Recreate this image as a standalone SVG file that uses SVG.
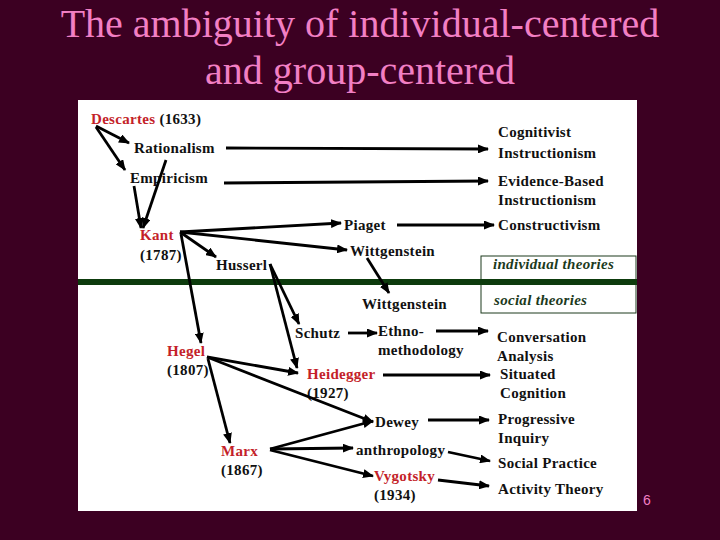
<svg xmlns="http://www.w3.org/2000/svg" width="720" height="540" viewBox="0 0 720 540">
<defs>
<style>
.t{font-family:'Liberation Serif','Times New Roman',Times,serif;font-size:15px;font-weight:bold;letter-spacing:0.3px;fill:#111}
.r{fill:#c41f2a}
.it{font-family:'Liberation Serif','Times New Roman',Times,serif;font-size:15px;font-weight:bold;font-style:italic;letter-spacing:0.3px;fill:#1c3a1c}
.title{font-family:'Liberation Serif','Times New Roman',Times,serif;font-size:40px;fill:#f27fc4}
.c path{fill:none;stroke:#000;stroke-width:2.8;marker-end:url(#ah)}
</style>
<marker id="ah" markerUnits="userSpaceOnUse" markerWidth="11" markerHeight="9" refX="10" refY="4.5" orient="auto" viewBox="0 0 11 9">
<path d="M0,0 L11,4.5 L0,9 z" fill="#000"/>
</marker>
</defs>
<rect x="0" y="0" width="720" height="540" fill="#3c0022"/>
<g id="title">
<text class="title" x="360" y="37" text-anchor="middle">The ambiguity of individual-centered</text>
<text class="title" x="360" y="84" text-anchor="middle">and group-centered</text>
</g>
<rect x="78" y="100" width="559" height="411" fill="#ffffff"/>
<g id="theory-box">
<rect x="481" y="256" width="155" height="57" fill="none" stroke="#1c3a1c" stroke-width="1"/>
</g>
<rect id="divider" x="78" y="279" width="559" height="6" fill="#0d3b0d"/>
<g id="individual-theories"><text class="it" x="493" y="269">individual theories</text></g>
<g id="social-theories"><text class="it" x="494" y="305">social theories</text></g>

<g id="descartes"><text class="t" x="91" y="124"><tspan class="r">Descartes</tspan> (1633)</text></g>
<g id="rationalism"><text class="t" x="134" y="153">Rationalism</text></g>
<g id="empiricism"><text class="t" x="130" y="183">Empiricism</text></g>
<g id="kant"><text class="t r" x="140" y="240">Kant</text><text class="t" x="140" y="260">(1787)</text></g>
<g id="husserl"><text class="t" x="216" y="270">Husserl</text></g>
<g id="piaget"><text class="t" x="344" y="230">Piaget</text></g>
<g id="wittgenstein1"><text class="t" x="350" y="256">Wittgenstein</text></g>
<g id="wittgenstein2"><text class="t" x="362" y="309">Wittgenstein</text></g>
<g id="schutz"><text class="t" x="295" y="338">Schutz</text></g>
<g id="ethnomethodology"><text class="t" x="378" y="336">Ethno-</text><text class="t" x="378" y="355">methodology</text></g>
<g id="hegel"><text class="t r" x="167" y="356">Hegel</text><text class="t" x="167" y="375">(1807)</text></g>
<g id="heidegger"><text class="t r" x="307" y="379">Heidegger</text><text class="t" x="307" y="398">(1927)</text></g>
<g id="dewey"><text class="t" x="375" y="427">Dewey</text></g>
<g id="marx"><text class="t r" x="221" y="456">Marx</text><text class="t" x="221" y="475">(1867)</text></g>
<g id="anthropology"><text class="t" x="356" y="455">anthropology</text></g>
<g id="vygotsky"><text class="t r" x="374" y="481">Vygotsky</text><text class="t" x="374" y="500">(1934)</text></g>

<g id="cognitivist"><text class="t" x="498" y="137">Cognitivist</text><text class="t" x="498" y="158">Instructionism</text></g>
<g id="evidence-based"><text class="t" x="498" y="186">Evidence-Based</text><text class="t" x="498" y="205">Instructionism</text></g>
<g id="constructivism"><text class="t" x="498" y="230">Constructivism</text></g>
<g id="conversation"><text class="t" x="497" y="342">Conversation</text><text class="t" x="497" y="361">Analysis</text></g>
<g id="situated"><text class="t" x="500" y="379">Situated</text><text class="t" x="500" y="398">Cognition</text></g>
<g id="progressive"><text class="t" x="498" y="424">Progressive</text><text class="t" x="498" y="443">Inquiry</text></g>
<g id="social-practice"><text class="t" x="498" y="468">Social Practice</text></g>
<g id="activity-theory"><text class="t" x="498" y="494">Activity Theory</text></g>

<g id="page-number"><text x="643" y="505" font-family="'Liberation Sans',Arial,sans-serif" font-size="14" fill="#f27fc4">6</text></g>

<g id="connectors" class="c">
<path d="M96,126 L129,143"/>
<path d="M96,127 L125,170"/>
<path d="M166,160 L143,228"/>
<path d="M134,186 L141,228"/>
<path d="M226,148 L488,149"/>
<path d="M224,183 L488,181"/>
<path d="M180,232 L341,223"/>
<path d="M180,232 L347,250"/>
<path d="M180,232 L216,257"/>
<path d="M181,234 L201,343"/>
<path d="M397,225 L494,225"/>
<path d="M367,258 L389,293"/>
<path d="M270,264 L299,324"/>
<path d="M270,264 L297,368"/>
<path d="M348,333 L377,333"/>
<path d="M436,331 L488,331"/>
<path d="M207,357 L298,373"/>
<path d="M207,357 L373,422"/>
<path d="M208,359 L230,443"/>
<path d="M383,375 L490,375"/>
<path d="M270,449 L373,421"/>
<path d="M270,449 L353,448"/>
<path d="M270,450 L373,476"/>
<path d="M428,420 L489,420"/>
<path d="M448,452 L490,461"/>
<path d="M438,480 L489,486"/>
</g>
</svg>
